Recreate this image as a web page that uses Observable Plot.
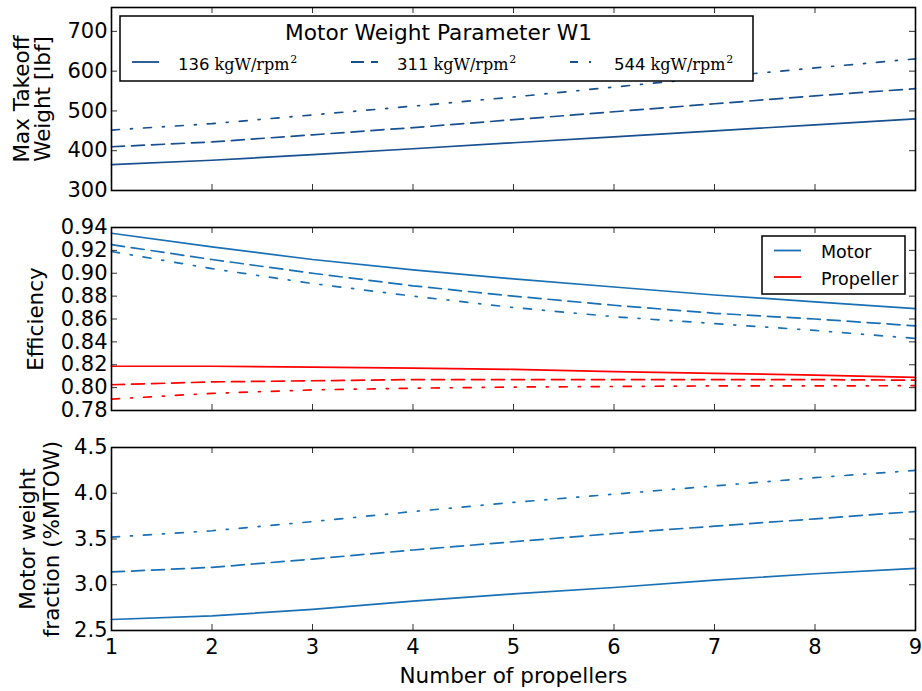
<!DOCTYPE html>
<html><head><meta charset="utf-8">
<script src="https://cdn.jsdelivr.net/npm/d3@7"></script>
<script src="https://cdn.jsdelivr.net/npm/@observablehq/plot@0.6"></script>
<style>
body{margin:0;background:#fff}
#chart{position:relative;width:922px;height:691px;background:#fff}
#chart svg{position:absolute;left:0;overflow:visible}
</style>
</head><body><div id="chart"></div>
<script>
// ---------- data ----------
const propellers = [1, 2, 3, 4, 5, 6, 7, 8, 9];
const w1Labels = ["136", "311", "544"];
const w1Unit = "kgW/rpm";

const mtow136 = [365, 376, 390, 405, 420, 435, 450, 465, 480];
const mtow311 = [410, 422, 440, 458, 478, 498, 518, 538, 556];
const mtow544 = [452, 468, 490, 512, 535, 560, 585, 608, 631];

const motorEff136 = [0.935, 0.923, 0.912, 0.903, 0.895, 0.888, 0.881, 0.875, 0.869];
const motorEff311 = [0.925, 0.912, 0.900, 0.889, 0.880, 0.872, 0.865, 0.860, 0.854];
const motorEff544 = [0.919, 0.904, 0.891, 0.880, 0.870, 0.862, 0.856, 0.850, 0.843];

const propEff136 = [0.8187, 0.8187, 0.818, 0.817, 0.816, 0.814, 0.8125, 0.811, 0.809];
const propEff311 = [0.8025, 0.805, 0.806, 0.807, 0.807, 0.807, 0.807, 0.807, 0.8065];
const propEff544 = [0.790, 0.795, 0.798, 0.7995, 0.8005, 0.801, 0.8015, 0.8015, 0.8017];

const motorFrac136 = [2.62, 2.66, 2.73, 2.82, 2.90, 2.97, 3.05, 3.12, 3.18];
const motorFrac311 = [3.14, 3.19, 3.28, 3.38, 3.47, 3.56, 3.64, 3.72, 3.80];
const motorFrac544 = [3.52, 3.59, 3.69, 3.80, 3.90, 3.99, 4.08, 4.17, 4.25];

const mtowTicks = [300, 400, 500, 600, 700];
const effTicks = [0.78, 0.80, 0.82, 0.84, 0.86, 0.88, 0.90, 0.92, 0.94];
const fracTicks = [2.5, 3.0, 3.5, 4.0, 4.5];
const effLegendLabels = ["Motor", "Propeller"];

// ---------- styles ----------
const W = 922, ML = 111, MR = 7, IH = 183, TICK = 6;
const IW = W - ML - MR;
const dashes = [null, "13,7", "8,11,2,11"];
const darkBlue = "#174f8f", blue = "#1a70b5", red = "#ff0000";
const FONT = "DejaVu Sans";
const TICK_FONT = 21, LABEL_FONT = 21.5;

const rowsOf = (vals) => propellers.map((n, i) => ({n, v: vals[i]}));

function seriesMarks(list, color) {
  return list.map((vals, i) => Plot.line(rowsOf(vals), {
    x: "n", y: "v", stroke: color, strokeWidth: 1.7,
    strokeDasharray: dashes[i] ?? undefined, curve: "linear"
  }));
}

function tickMarks(yTicks) {
  return [
    Plot.tickX(propellers, {x: d => d, insetBottom: IH - TICK, stroke: "#333", strokeWidth: 1}),
    Plot.tickX(propellers, {x: d => d, insetTop: IH - TICK, stroke: "#333", strokeWidth: 1}),
    Plot.tickY(yTicks, {y: d => d, insetRight: IW - TICK, stroke: "#333", strokeWidth: 1}),
    Plot.tickY(yTicks, {y: d => d, insetLeft: IW - TICK, stroke: "#333", strokeWidth: 1})
  ];
}

function yLabel(text, dx, lineHeight) {
  return Plot.text([text], {
    text: d => d, frameAnchor: "left", dx, rotate: -90,
    textAnchor: "middle", lineAnchor: "middle", lineHeight,
    fontSize: LABEL_FONT, fill: "black"
  });
}

// legend for the W1 parameter (top panel)
function w1Legend(index, scales, values, dims) {
  const g = d3.create("svg:g").attr("text-anchor", "start");
  const x0 = dims.marginLeft + 9, y0 = dims.marginTop + 9;
  const bw = 633, bh = 65;
  g.append("rect").attr("x", x0).attr("y", y0).attr("width", bw).attr("height", bh)
    .attr("fill", "white").attr("stroke", "black").attr("stroke-width", 1.5);
  g.append("text").attr("x", x0 + bw / 2 + 2).attr("y", y0 + 24)
    .attr("text-anchor", "middle").attr("font-family", FONT).attr("font-size", 21.7)
    .attr("fill", "black").text("Motor Weight Parameter W1");
  w1Labels.forEach((lab, i) => {
    const sx = x0 + 12 + i * 219;
    const ly = y0 + 46;
    const ln = g.append("line").attr("x1", sx).attr("x2", sx + 27).attr("y1", ly).attr("y2", ly)
      .attr("stroke", darkBlue).attr("stroke-width", 1.8);
    if (dashes[i]) ln.attr("stroke-dasharray", dashes[i]);
    const t = g.append("text").attr("x", sx + 46 - (i === 2 ? 2 : 0)).attr("y", y0 + 54)
      .attr("text-anchor", "start").attr("fill", "black");
    t.append("tspan").attr("font-family", FONT).attr("font-size", 16.5).text(lab);
    t.append("tspan").attr("font-family", "DejaVu Serif").attr("font-size", 16).attr("dx", 5).text(w1Unit);
    t.append("tspan").attr("font-family", "DejaVu Serif").attr("font-size", 11).attr("dy", -7).attr("dx", 1).text("2");
  });
  return g.node();
}

// legend for motor / propeller (middle panel)
function effLegend(index, scales, values, dims) {
  const g = d3.create("svg:g").attr("text-anchor", "start");
  const bx = dims.width - dims.marginRight - 153, by = dims.marginTop + 9;
  g.append("rect").attr("x", bx).attr("y", by).attr("width", 143).attr("height", 58)
    .attr("fill", "white").attr("stroke", "black").attr("stroke-width", 1.5);
  [blue, red].forEach((c, i) => {
    const ly = by + 14.5 + i * 26.5;
    g.append("line").attr("x1", bx + 12).attr("x2", bx + 39).attr("y1", ly).attr("y2", ly)
      .attr("stroke", c).attr("stroke-width", 1.8);
    g.append("text").attr("x", bx + 59).attr("y", ly + 7.5).attr("font-family", FONT)
      .attr("text-anchor", "start").attr("font-size", 17.5).attr("fill", "black").text(effLegendLabels[i]);
  });
  return g.node();
}

function panel({top, marginTop, marginBottom, domain, ticks, format, marks, label, labelDx, labelLH, xAxis}) {
  const svg = Plot.plot({
    width: W, height: marginTop + IH + marginBottom,
    marginTop, marginBottom, marginLeft: ML, marginRight: MR,
    x: {domain: [1, 9], axis: null},
    y: {domain, axis: null},
    style: {fontFamily: FONT, fontSize: TICK_FONT + "px", color: "black", background: "transparent", overflow: "visible"},
    marks: [
      ...marks,
      ...tickMarks(ticks),
      Plot.axisY(ticks, {tickSize: 0, tickPadding: 4, tickFormat: format, fontSize: TICK_FONT, label: null, fill: "black"}),
      ...(xAxis ? [
        Plot.axisX(propellers, {tickSize: 0, tickPadding: 9, fontSize: TICK_FONT, label: null, fill: "black"}),
        Plot.text(["Number of propellers"], {text: d => d, frameAnchor: "bottom", dy: 52, fontSize: LABEL_FONT, fill: "black"})
      ] : []),
      yLabel(label, labelDx, labelLH),
      Plot.frame({stroke: "black", strokeWidth: 1.6})
    ]
  });
  svg.style.top = top + "px";
  return svg;
}

const chart = document.getElementById("chart");

chart.append(panel({
  top: 0, marginTop: 7, marginBottom: 10, domain: [300, 760], ticks: mtowTicks,
  format: d3.format("d"),
  marks: [...seriesMarks([mtow136, mtow311, mtow544], darkBlue), w1Legend],
  label: "Max Takeoff\nWeight [lbf]", labelDx: -79, labelLH: 0.97
}));

chart.append(panel({
  top: 200, marginTop: 27, marginBottom: 20, domain: [0.78, 0.94], ticks: effTicks,
  format: d3.format(".2f"),
  marks: [
    ...seriesMarks([motorEff136, motorEff311, motorEff544], blue),
    ...seriesMarks([propEff136, propEff311, propEff544], red),
    effLegend
  ],
  label: "Efficiency", labelDx: -75, labelLH: 1
}));

chart.append(panel({
  top: 430, marginTop: 17, marginBottom: 61, domain: [2.5, 4.5], ticks: fracTicks,
  format: d3.format(".1f"),
  marks: [...seriesMarks([motorFrac136, motorFrac311, motorFrac544], blue)],
  label: "Motor weight\nfraction (%MTOW)", labelDx: -72.5, labelLH: 1.16,
  xAxis: true
}));
</script>
</body></html>
